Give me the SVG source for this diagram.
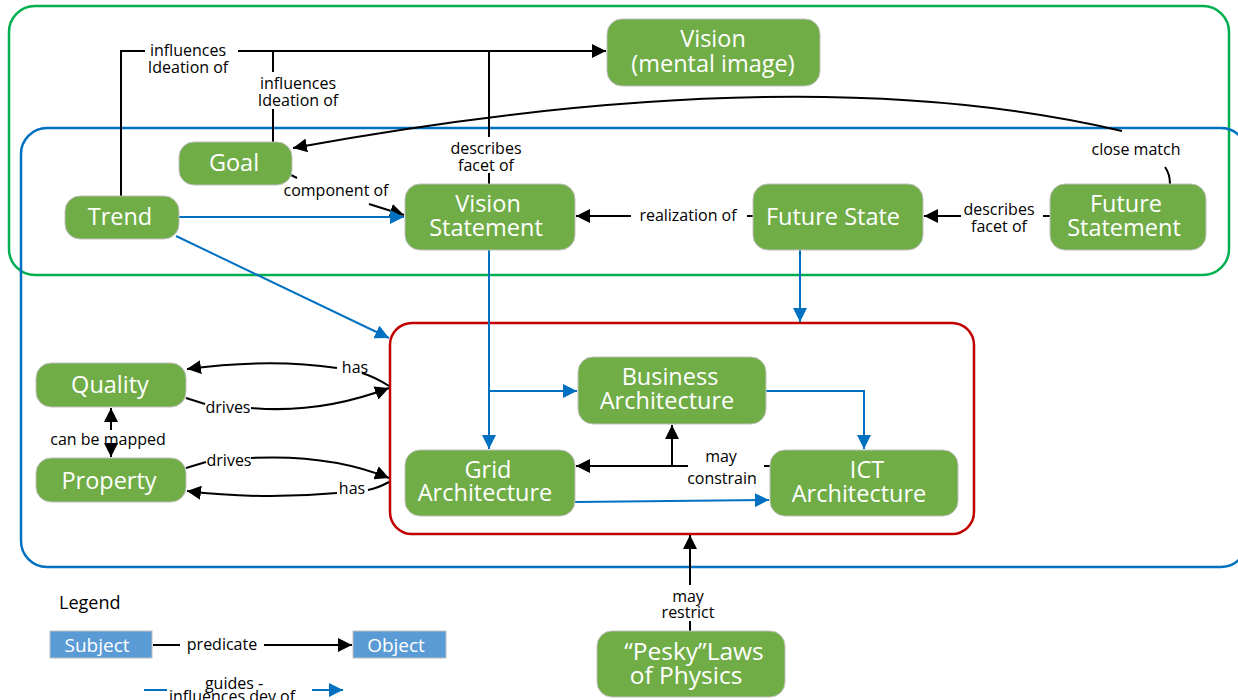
<svg xmlns="http://www.w3.org/2000/svg" width="1238" height="700" viewBox="0 0 1238 700">
<defs>
<marker id="ak" viewBox="0 0 10 10" refX="10" refY="5" markerWidth="14" markerHeight="14" markerUnits="userSpaceOnUse" orient="auto"><path d="M0,0 L10,5 L0,10 z" fill="#000"/></marker>
<marker id="au" viewBox="0 0 10 10" refX="10" refY="5" markerWidth="14" markerHeight="14" markerUnits="userSpaceOnUse" orient="auto"><path d="M0,0 L10,5 L0,10 z" fill="#0070C0"/></marker>
</defs>
<style>
.n rect{fill:#70AD47;stroke:#BFBFBF;stroke-width:1}
.n text{fill:#fff;font-family:"Open Sans","Noto Sans",sans-serif;font-size:23.5px;text-anchor:middle}
.lb{fill:#000;font-family:"Open Sans","Noto Sans",sans-serif;font-size:16px;text-anchor:middle}
.k{fill:none;stroke:#000;stroke-width:2}
.u{fill:none;stroke:#0070C0;stroke-width:2}
.lg rect{fill:#5B9BD5;stroke:#BFBFBF;stroke-width:1}
.lg text{fill:#fff;font-family:"Open Sans","Noto Sans",sans-serif;font-size:19px;text-anchor:middle}
</style>
<rect width="1238" height="700" fill="#fff"/>
<g id="containers" fill="none" stroke-width="2.5">
<rect id="green-box" x="9" y="6" width="1220" height="269" rx="26" stroke="#00B050"/>
<rect id="blue-box" x="21" y="128" width="1226" height="439" rx="26" stroke="#0070C0"/>
<rect id="red-box" x="390" y="323" width="584" height="211" rx="22" stroke="#C00000"/>
</g>
<g id="connectors">
<path class="k" d="M121,196 V51 H145"/>
<path class="k" d="M238,51 H606" marker-end="url(#ak)"/>
<text class="lb" x="188" y="56"><tspan x="188">influences</tspan><tspan x="188" dy="17">Ideation of</tspan></text>
<path class="k" d="M273,142 V109"/>
<path class="k" d="M273,72 V51"/>
<text class="lb" x="298" y="89"><tspan x="298">influences</tspan><tspan x="298" dy="17">Ideation of</tspan></text>
<path class="k" d="M489,184 V173"/>
<path class="k" d="M489,137 V51"/>
<text class="lb" x="486" y="154"><tspan x="486">describes</tspan><tspan x="486" dy="17">facet of</tspan></text>
<path class="k" d="M1170,184 Q1170,174 1165,167"/>
<path class="k" d="M1122,131 Q800,55 293,148" marker-end="url(#ak)"/>
<text class="lb" x="1136" y="155">close match</text>
<path class="k" d="M291,175 L297,178"/>
<path class="k" d="M369,204 L404,215" marker-end="url(#ak)"/>
<text class="lb" x="336" y="196">component of</text>
<path class="u" d="M179,217 H404" marker-end="url(#au)"/>
<path class="u" d="M176,236 L389,338" marker-end="url(#au)"/>
<path class="k" d="M753,216 H747"/>
<path class="k" d="M631,216 H576" marker-end="url(#ak)"/>
<text class="lb" x="688" y="221">realization of</text>
<path class="k" d="M1050,216 H1043"/>
<path class="k" d="M961,216 H924" marker-end="url(#ak)"/>
<text class="lb" x="999" y="215"><tspan x="999">describes</tspan><tspan x="999" dy="17">facet of</tspan></text>
<path class="u" d="M800,250 V322" marker-end="url(#au)"/>
<path class="u" d="M489,250 V449" marker-end="url(#au)"/>
<path class="u" d="M489,391 H577" marker-end="url(#au)"/>
<path class="u" d="M766,391 H864 V449" marker-end="url(#au)"/>
<path class="u" d="M575,502 L769,500" marker-end="url(#au)"/>
<path class="k" d="M770,466 H764"/>
<path class="k" d="M688,466 H576" marker-end="url(#ak)"/>
<path class="k" d="M672,466 V425" marker-end="url(#ak)"/>
<text class="lb" x="721" y="462"><tspan x="721">may</tspan><tspan x="722" dy="22">constrain</tspan></text>
<path class="k" d="M690,631 V621"/>
<path class="k" d="M690,585 V535" marker-end="url(#ak)"/>
<text class="lb" x="688" y="602"><tspan x="688">may</tspan><tspan x="688" dy="16">restrict</tspan></text>
<path class="k" d="M111,430 V408" marker-end="url(#ak)"/>
<path class="k" d="M111,448 V457" marker-end="url(#ak)"/>
<text class="lb" x="108" y="445">can be mapped</text>
<path class="k" d="M389,386 Q375,377 362,373"/>
<path class="k" d="M337,368 Q270,358 187,369" marker-end="url(#ak)"/>
<text class="lb" x="355" y="373">has</text>
<path class="k" d="M186,398 L205,404"/>
<path class="k" d="M251,408 Q320,414 389,388" marker-end="url(#ak)"/>
<text class="lb" x="228" y="413">drives</text>
<path class="k" d="M186,468 L206,462"/>
<path class="k" d="M251,458 Q330,454 389,478" marker-end="url(#ak)"/>
<text class="lb" x="229" y="466">drives</text>
<path class="k" d="M389,482 Q378,488 368,490"/>
<path class="k" d="M337,493 Q260,500 187,491" marker-end="url(#ak)"/>
<text class="lb" x="352" y="494">has</text>
</g>
<g id="vision" class="n"><rect x="607" y="19" width="213" height="67" rx="15"/><text x="713" y="47"><tspan x="713">Vision</tspan><tspan x="713" dy="25">(mental image)</tspan></text></g>
<g id="goal" class="n"><rect x="179" y="142" width="113" height="43" rx="15"/><text x="234" y="171">Goal</text></g>
<g id="trend" class="n"><rect x="65" y="196" width="114" height="43" rx="15"/><text x="120" y="225">Trend</text></g>
<g id="vision-statement" class="n"><rect x="405" y="184" width="170" height="66" rx="15"/><text x="488" y="212"><tspan x="488">Vision</tspan><tspan x="486" dy="24">Statement</tspan></text></g>
<g id="future-state" class="n"><rect x="753" y="184" width="170" height="66" rx="15"/><text x="833" y="225">Future State</text></g>
<g id="future-statement" class="n"><rect x="1050" y="184" width="156" height="66" rx="15"/><text x="1126" y="212"><tspan x="1126">Future</tspan><tspan x="1124" dy="24">Statement</tspan></text></g>
<g id="quality" class="n"><rect x="36" y="363" width="150" height="44" rx="15"/><text x="110" y="393">Quality</text></g>
<g id="property" class="n"><rect x="36" y="458" width="150" height="44" rx="15"/><text x="109" y="489">Property</text></g>
<g id="business-architecture" class="n"><rect x="578" y="357" width="188" height="67" rx="15"/><text x="670" y="385"><tspan x="670">Business</tspan><tspan x="667" dy="24">Architecture</tspan></text></g>
<g id="grid-architecture" class="n"><rect x="405" y="450" width="170" height="66" rx="15"/><text x="488" y="478"><tspan x="488">Grid</tspan><tspan x="485" dy="23">Architecture</tspan></text></g>
<g id="ict-architecture" class="n"><rect x="770" y="450" width="188" height="66" rx="15"/><text x="867" y="478"><tspan x="867">ICT</tspan><tspan x="859" dy="24">Architecture</tspan></text></g>
<g id="pesky-laws" class="n"><rect x="597" y="631" width="188" height="66" rx="15"/><text x="694" y="660" style="font-size:24.5px"><tspan x="694">“Pesky”Laws</tspan><tspan x="686" dy="24">of Physics</tspan></text></g>
<g id="legend">
<text x="59" y="609" style="fill:#000;font-family:'Open Sans','Noto Sans',sans-serif;font-size:18px">Legend</text>
<g class="lg"><rect x="50" y="631" width="102" height="27"/><text x="97" y="652">Subject</text></g>
<g class="lg"><rect x="353" y="631" width="93" height="27"/><text x="396" y="652">Object</text></g>
<path class="k" d="M153,645 H180"/>
<path class="k" d="M264,645 H352" marker-end="url(#ak)"/>
<text class="lb" x="222" y="650">predicate</text>
<path class="u" d="M144,690 H167"/>
<path class="u" d="M312,690 H343" marker-end="url(#au)"/>
<text class="lb" x="234" y="689"><tspan x="234">guides -</tspan><tspan x="232" dy="13">influences dev of</tspan></text>
</g>
</svg>
